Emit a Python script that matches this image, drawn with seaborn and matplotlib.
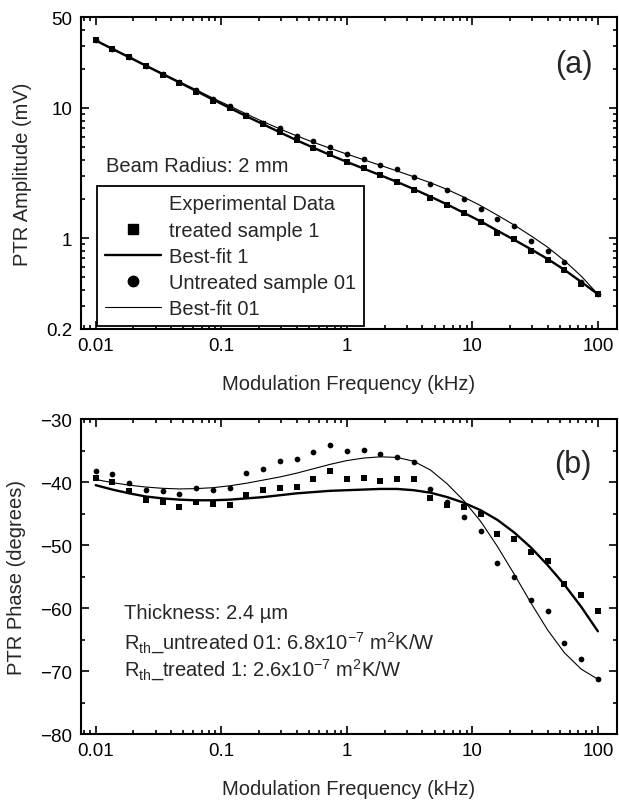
import matplotlib
matplotlib.use("Agg")
import matplotlib.pyplot as plt
from matplotlib.lines import Line2D
from matplotlib.ticker import FixedLocator, FixedFormatter, LogLocator, MultipleLocator, NullFormatter
import pandas as pd
import seaborn as sns

# modulation frequency (kHz), 31 log-spaced points
freq = [0.01, 0.0136, 0.0185, 0.0251, 0.0341, 0.0464, 0.0631, 0.0858, 0.117, 0.158,
        0.215, 0.293, 0.398, 0.541, 0.736, 1.0, 1.36, 1.85, 2.51, 3.41,
        4.64, 6.31, 8.58, 11.7, 15.8, 21.5, 29.3, 39.8, 54.1, 73.6, 100.0]

# (a) amplitude, mV
amp_treated = [33.0, 28.5, 24.5, 20.9, 18.0, 15.6, 13.3, 11.4, 10.0, 8.6,
               7.5, 6.56, 5.71, 4.94, 4.41, 3.86, 3.43, 3.03, 2.70, 2.36,
               2.04, 1.80, 1.55, 1.32, 1.10, 0.99, 0.80, 0.68, 0.57, 0.44, 0.37]
amp_untreated = [33.2, 28.6, 24.7, 21.1, 18.3, 15.9, 13.7, 11.7, 10.3, 8.9,
                 7.67, 6.95, 6.12, 5.61, 5.0, 4.46, 4.04, 3.64, 3.40, 2.97,
                 2.60, 2.32, 1.99, 1.67, 1.41, 1.23, 0.95, 0.80, 0.66, 0.456, 0.37]
amp_fit_treated = [33.0, 28.4, 24.5, 21.1, 18.2, 15.7, 13.5, 11.6, 10.0, 8.65,
                   7.5, 6.5, 5.65, 4.95, 4.35, 3.85, 3.42, 3.04, 2.70, 2.38,
                   2.08, 1.81, 1.56, 1.34, 1.14, 0.97, 0.82, 0.69, 0.57, 0.46, 0.37]
amp_fit_untreated = [33.2, 28.6, 24.7, 21.3, 18.4, 15.9, 13.8, 11.9, 10.35, 9.0,
                     7.85, 6.9, 6.1, 5.45, 4.9, 4.42, 4.0, 3.62, 3.28, 2.96,
                     2.66, 2.36, 2.06, 1.77, 1.50, 1.26, 1.04, 0.85, 0.67, 0.51, 0.37]

# (b) phase, degrees
ph_treated = [-39.4, -40.0, -41.5, -42.8, -43.2, -43.9, -43.1, -43.5, -43.6, -42.0,
              -41.3, -40.9, -40.8, -39.6, -38.3, -39.6, -39.4, -39.9, -39.6, -39.6,
              -42.6, -43.6, -43.95, -45.0, -48.3, -49.1, -51.05, -52.5, -56.2, -57.9, -60.4]
ph_untreated = [-38.2, -38.8, -40.2, -41.3, -41.4, -41.9, -40.9, -41.2, -40.9, -38.5,
                -38.0, -36.6, -36.4, -35.3, -34.1, -35.1, -34.9, -35.6, -36.05, -36.9,
                -41.05, -43.2, -45.6, -47.7, -52.8, -55.0, -58.7, -60.4, -65.5, -68.05, -71.2]
ph_fit_treated = [-40.5, -41.2, -41.8, -42.3, -42.6, -42.8, -42.9, -42.9, -42.8, -42.6,
                  -42.4, -42.1, -41.8, -41.6, -41.4, -41.3, -41.2, -41.1, -41.1, -41.3,
                  -41.7, -42.4, -43.3, -44.5, -46.0, -48.0, -50.4, -53.2, -56.3, -59.8, -63.7]
ph_fit_untreated = [-39.6, -40.1, -40.5, -40.8, -41.0, -41.1, -41.05, -40.9, -40.6, -40.2,
                    -39.7, -39.2, -38.6, -37.9, -37.2, -36.6, -36.2, -36.0, -36.1, -36.7,
                    -38.1, -40.3, -43.0, -46.3, -50.2, -54.6, -59.2, -63.5, -67.1, -69.7, -71.3]

x_ticks = [0.01, 0.1, 1, 10, 100]
x_ticklabels = ["0.01", "0.1", "1", "10", "100"]
amp_ticks = [0.2, 1, 10, 50]
amp_ticklabels = ["0.2", "1", "10", "50"]

sns.set_theme(style="ticks")
plt.rcParams["font.family"] = ["Liberation Sans", "DejaVu Sans"]
plt.rcParams["mathtext.fontset"] = "custom"
plt.rcParams["mathtext.rm"] = "Liberation Sans"
plt.rcParams["mathtext.it"] = "Liberation Sans:italic"
plt.rcParams["mathtext.bf"] = "Liberation Sans:bold"

TICK_FS = 13.5
LABEL_FS = 14.5
TEXT_FS = 14.5

df = pd.DataFrame({
    "freq": freq,
    "amp_t": amp_treated, "amp_u": amp_untreated,
    "amp_ft": amp_fit_treated, "amp_fu": amp_fit_untreated,
    "ph_t": ph_treated, "ph_u": ph_untreated,
    "ph_ft": ph_fit_treated, "ph_fu": ph_fit_untreated,
})

fig = plt.figure(figsize=(6.19, 8.04), dpi=100)
ax1 = fig.add_axes([0.1304, 0.5896, 0.8664, 0.388])
ax2 = fig.add_axes([0.1304, 0.0858, 0.8664, 0.3918])


def style_axis(ax):
    ax.set_xscale("log")
    ax.set_xlim(0.0076, 142)
    ax.xaxis.set_major_locator(FixedLocator(x_ticks))
    ax.xaxis.set_major_formatter(FixedFormatter(x_ticklabels))
    ax.xaxis.set_minor_locator(LogLocator(base=10, subs=range(2, 10), numticks=20))
    ax.xaxis.set_minor_formatter(NullFormatter())
    ax.tick_params(which="both", direction="in", top=True, right=True,
                   labelsize=TICK_FS, colors="black", width=1.2, pad=6)
    ax.tick_params(which="major", length=6)
    ax.tick_params(which="minor", length=3)
    for sp in ax.spines.values():
        sp.set_linewidth(1.5)
        sp.set_color("black")
    ax.set_xlabel("Modulation Frequency (kHz)", fontsize=LABEL_FS, labelpad=14)


def draw_panel(ax, col_t, col_u, col_ft, col_fu):
    sns.lineplot(data=df, x="freq", y=col_ft, ax=ax, color="black", lw=1.7,
                 estimator=None, sort=False, legend=False)
    sns.lineplot(data=df, x="freq", y=col_fu, ax=ax, color="black", lw=0.8,
                 estimator=None, sort=False, legend=False)
    sns.scatterplot(data=df, x="freq", y=col_t, ax=ax, marker="s", s=24,
                    color="black", edgecolor="black", linewidth=0, legend=False, zorder=3)
    sns.scatterplot(data=df, x="freq", y=col_u, ax=ax, marker="o", s=17,
                    color="black", edgecolor="black", linewidth=0, legend=False, zorder=3)


# (a) amplitude
draw_panel(ax1, "amp_t", "amp_u", "amp_ft", "amp_fu")
style_axis(ax1)
ax1.set_yscale("log")
ax1.set_ylim(0.2, 50)
ax1.yaxis.set_major_locator(FixedLocator(amp_ticks))
ax1.yaxis.set_major_formatter(FixedFormatter(amp_ticklabels))
ax1.yaxis.set_minor_locator(LogLocator(base=10, subs=range(2, 10), numticks=20))
ax1.yaxis.set_minor_formatter(NullFormatter())
ax1.set_ylabel("PTR Amplitude (mV)", fontsize=LABEL_FS, labelpad=10)
ax1.text(0.92, 0.85, "(a)", transform=ax1.transAxes, fontsize=22,
         ha="center", va="center")
ax1.text(0.047, 0.523, "Beam Radius: 2 mm", transform=ax1.transAxes, fontsize=TEXT_FS,
         ha="left", va="center")

handles = [
    Line2D([], [], linestyle="none", marker=None),
    Line2D([], [], linestyle="none", marker="s", color="black", markersize=7.5),
    Line2D([], [], color="black", lw=1.7),
    Line2D([], [], linestyle="none", marker="o", color="black", markersize=7.5),
    Line2D([], [], color="black", lw=0.8),
]
labels = ["Experimental Data", "treated sample 1", "Best-fit 1",
          "Untreated sample 01", "Best-fit 01"]
leg = ax1.legend(handles, labels, loc="lower left", bbox_to_anchor=(0.03, 0.008),
                 borderaxespad=0, fontsize=TEXT_FS, frameon=True, fancybox=False,
                 edgecolor="black", handlelength=2.8, handletextpad=0.4,
                 borderpad=0.4, labelspacing=0.36)
leg.get_frame().set_linewidth(1.3)
leg.get_frame().set_alpha(1)

# (b) phase
draw_panel(ax2, "ph_t", "ph_u", "ph_ft", "ph_fu")
style_axis(ax2)
ax2.set_ylim(-80, -30)
ax2.yaxis.set_major_locator(MultipleLocator(10))
ax2.yaxis.set_minor_locator(MultipleLocator(5))
ax2.set_ylabel("PTR Phase (degrees)", fontsize=LABEL_FS, labelpad=10)
ax2.text(0.918, 0.857, "(b)", transform=ax2.transAxes, fontsize=22,
         ha="center", va="center")
ax2.text(0.081, 0.386, "Thickness: 2.4 \u00b5m", transform=ax2.transAxes,
         fontsize=TEXT_FS, ha="left", va="center")
ax2.text(0.081, 0.29,
         r"R$_{\mathrm{th}}$_untreated 01: 6.8x10$^{\mathrm{-7}}$ m$^{\mathrm{2}}$K/W",
         transform=ax2.transAxes, fontsize=TEXT_FS, ha="left", va="center")
ax2.text(0.081, 0.206,
         r"R$_{\mathrm{th}}$_treated 1: 2.6x10$^{\mathrm{-7}}$ m$^{\mathrm{2}}$K/W",
         transform=ax2.transAxes, fontsize=TEXT_FS, ha="left", va="center")

fig.savefig("out.png", dpi=100, facecolor="white")
